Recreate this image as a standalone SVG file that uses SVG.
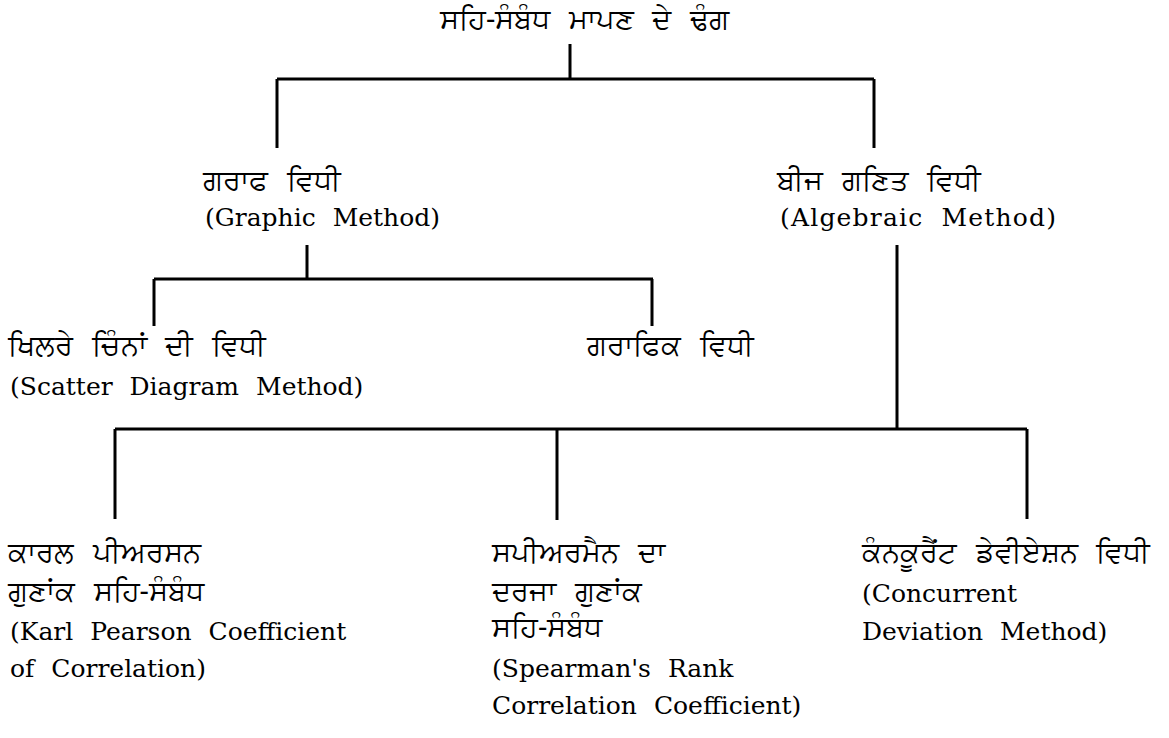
<svg xmlns="http://www.w3.org/2000/svg" width="1169" height="738" viewBox="0 0 1169 738">
<style>
.pa{font-family:"Noto Sans","DejaVu Sans",sans-serif;font-size:29px;fill:#000;word-spacing:11px}
.en{font-family:"DejaVu Serif","Liberation Serif",serif;font-size:25px;fill:#000;word-spacing:9px}
.ln{stroke:#000;stroke-width:3;fill:none}
</style>
<rect width="1169" height="738" fill="#fff"/>
<g id="connectors">
<path class="ln" d="M570,44V79M277,79H874M277,79V148M874,79V148"/>
<path class="ln" d="M307,245V279M154,279H653M154,279V326M652,279V326"/>
<path class="ln" d="M897,245V429M115,429H1027M115,429V519M557,429V520M1027,429V519"/>
</g>
<g id="root"><text class="pa" x="440" y="29">ਸਹਿ-ਸੰਬੰਧ ਮਾਪਣ ਦੇ ਢੰਗ</text></g>
<g id="graphic"><text class="pa" x="203" y="190">ਗਰਾਫ ਵਿਧੀ</text><text class="en" x="205" y="226">(Graphic Method)</text></g>
<g id="algebraic"><text class="pa" x="777" y="190">ਬੀਜ ਗਣਿਤ ਵਿਧੀ</text><text class="en" x="780" y="226" word-spacing="30" textLength="276" lengthAdjust="spacing">(Algebraic Method)</text></g>
<g id="scatter"><text class="pa" x="8" y="355">ਖਿਲਰੇ ਚਿੰਨਾਂ ਦੀ ਵਿਧੀ</text><text class="en" x="10" y="395">(Scatter Diagram Method)</text></g>
<g id="graphical"><text class="pa" x="587" y="355">ਗਰਾਫਿਕ ਵਿਧੀ</text></g>
<g id="pearson"><text class="pa" x="8" y="562">ਕਾਰਲ ਪੀਅਰਸਨ</text><text class="pa" x="8" y="601">ਗੁਣਾਂਕ ਸਹਿ-ਸੰਬੰਧ</text><text class="en" x="10" y="640">(Karl Pearson Coefficient</text><text class="en" x="10" y="677">of Correlation)</text></g>
<g id="spearman"><text class="pa" x="492" y="562">ਸਪੀਅਰਮੈਨ ਦਾ</text><text class="pa" x="492" y="601">ਦਰਜਾ ਗੁਣਾਂਕ</text><text class="pa" x="492" y="637">ਸਹਿ-ਸੰਬੰਧ</text><text class="en" x="492" y="677">(Spearman's Rank</text><text class="en" x="492" y="714">Correlation Coefficient)</text></g>
<g id="concurrent"><text class="pa" x="862" y="562">ਕੰਨਕੂਰੈਂਟ ਡੇਵੀਏਸ਼ਨ ਵਿਧੀ</text><text class="en" x="862" y="602">(Concurrent</text><text class="en" x="862" y="640">Deviation Method)</text></g>
</svg>
